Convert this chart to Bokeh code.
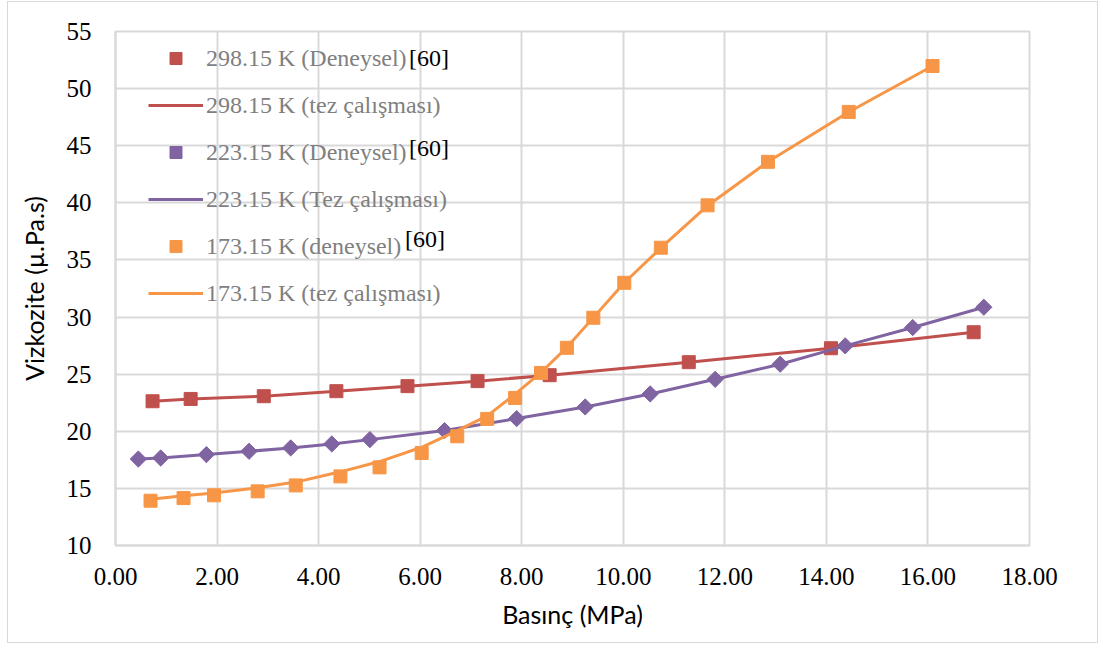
from bokeh.plotting import figure
from bokeh.models import Range1d, FixedTicker, NumeralTickFormatter, Legend, LegendItem
from bokeh.embed import file_html
from bokeh.resources import INLINE

# ---------------- data ----------------
x_ticks = [0, 2, 4, 6, 8, 10, 12, 14, 16, 18]
y_ticks = [10, 15, 20, 25, 30, 35, 40, 45, 50, 55]

# 298.15 K
red_p = [0.73, 1.48, 2.92, 4.35, 5.75, 7.13, 8.55, 11.29, 14.09, 16.90]
red_mu = [22.63, 22.83, 23.07, 23.51, 23.95, 24.39, 24.91, 26.05, 27.27, 28.67]
red_model_p = [0.73, 1.48, 2.92, 4.35, 5.75, 7.13, 8.55, 11.29, 14.09, 16.90]
red_model_mu = [22.63, 22.83, 23.07, 23.51, 23.95, 24.39, 24.91, 26.05, 27.27, 28.67]

# 223.15 K
purple_p = [0.45, 0.89, 1.79, 2.63, 3.45, 4.26, 5.01, 6.48, 7.90, 9.25, 10.53, 11.81, 13.09, 14.37, 15.70, 17.10]
purple_mu = [17.57, 17.66, 17.96, 18.25, 18.54, 18.89, 19.27, 20.06, 21.11, 22.13, 23.27, 24.55, 25.87, 27.48, 29.08, 30.86]
purple_model_p = [0.45, 0.89, 1.79, 2.63, 3.45, 4.26, 5.01, 6.48, 7.90, 9.25, 10.53, 11.81, 13.09, 14.37, 15.70, 17.10]
purple_model_mu = [17.57, 17.66, 17.96, 18.25, 18.54, 18.89, 19.27, 20.06, 21.11, 22.13, 23.27, 24.55, 25.87, 27.48, 29.08, 30.86]

# 173.15 K
orange_p = [0.69, 1.34, 1.94, 2.80, 3.55, 4.43, 5.20, 6.03, 6.73, 7.32, 7.87, 8.38, 8.89, 9.41, 10.02, 10.74, 11.66, 12.85, 14.44, 16.09]
orange_mu = [13.92, 14.15, 14.39, 14.74, 15.26, 16.05, 16.84, 18.10, 19.56, 21.08, 22.92, 25.11, 27.31, 29.94, 33.00, 36.07, 39.78, 43.59, 47.96, 51.98]
orange_model_p = [0.69, 1.34, 1.94, 2.80, 3.55, 4.43, 5.20, 6.03, 6.73, 7.32, 7.87, 8.38, 8.89, 9.41, 10.02, 10.74, 11.66, 12.85, 14.44, 16.09]
orange_model_mu = [14.05, 14.35, 14.60, 15.05, 15.55, 16.45, 17.35, 18.60, 20.05, 21.35, 23.25, 25.15, 27.35, 29.95, 33.00, 36.05, 39.75, 43.60, 47.95, 51.98]

labels = ["298.15 K (Deneysel)", "298.15 K (tez çalışması)",
          "223.15 K (Deneysel)", "223.15 K (Tez çalışması)",
          "173.15 K (deneysel)", "173.15 K (tez çalışması)"]
ref_text = "[60]"

RED, PURPLE, ORANGE = "#C0504D", "#8064A2", "#F79646"
GRID = "#d9d9d9"
SERIF = "Liberation Serif"

p = figure(width=1091, height=642, output_backend="svg", toolbar_location=None,
           x_range=Range1d(0, 18), y_range=Range1d(10, 55),
           min_border_left=107, min_border_right=70, min_border_top=29, min_border_bottom=99)
p.styles = {"border": "1px solid #d9d9d9", "margin-left": "7px", "margin-top": "1px"}
p.outline_line_color = GRID
p.outline_line_width = 2

p.xaxis.ticker = FixedTicker(ticks=x_ticks)
p.yaxis.ticker = FixedTicker(ticks=y_ticks)
p.xaxis.formatter = NumeralTickFormatter(format="0.00")
for ax in (p.xaxis, p.yaxis):
    ax.major_tick_line_color = None
    ax.minor_tick_line_color = None
    ax.major_tick_out = 0
    ax.major_tick_in = 0
    ax.axis_line_color = GRID
    ax.axis_line_width = 2
    ax.major_label_text_font = SERIF
    ax.major_label_text_font_size = "25px"
    ax.major_label_text_color = "#000000"
    ax.axis_label_text_font = "Lato"
    ax.axis_label_text_font_size = "25px"
    ax.axis_label_text_font_style = "normal"
    ax.axis_label_text_color = "#000000"
p.xaxis.axis_label = "Basınç (MPa)"
p.yaxis.axis_label = "Vizkozite (µ.Pa.s)"
p.yaxis.major_label_standoff = 24
p.yaxis.axis_label_standoff = 15
p.xaxis.major_label_standoff = 22
p.xaxis.axis_label_standoff = 11

p.xgrid.ticker = FixedTicker(ticks=x_ticks)
p.ygrid.ticker = FixedTicker(ticks=y_ticks)
p.grid.grid_line_color = GRID
p.grid.grid_line_width = 2

r1 = p.scatter(red_p, red_mu, marker="square", size=13, color=RED)
r2 = p.line(red_model_p, red_model_mu, line_width=3, color=RED)
r3 = p.scatter(purple_p, purple_mu, marker="square", angle=0.785398, size=11.5, color=PURPLE)
r4 = p.line(purple_model_p, purple_model_mu, line_width=3, color=PURPLE)
r5 = p.scatter(orange_p, orange_mu, marker="square", size=13, color=ORANGE)
r6 = p.line(orange_model_p, orange_model_mu, line_width=3, color=ORANGE)

# invisible renderer used only to carry the "[60]" reference texts
blank = p.scatter(x=[], y=[], size=0, fill_alpha=0, line_alpha=0)

common = dict(padding=0, margin=0, border_line_color=None, background_fill_alpha=0,
              label_text_font=SERIF)

legend = Legend(items=[LegendItem(label=l, renderers=[r]) for l, r in zip(labels, [r1, r2, r3, r4, r5, r6])],
                location=(33, 237), glyph_width=55, glyph_height=30, label_height=30,
                spacing=17, label_standoff=3, label_text_font_size="24px",
                label_text_color="#7f7f7f", **common)
p.add_layout(legend)

for loc in [(294, 472), (294, 382), (290, 291)]:
    p.add_layout(Legend(items=[LegendItem(label=ref_text, renderers=[blank])], location=loc,
                        glyph_width=0, glyph_height=30, label_height=30, label_standoff=0,
                        label_text_font_size="24px", label_text_color="#000000", **common))

open("out.html", "w").write(file_html(p, INLINE))
